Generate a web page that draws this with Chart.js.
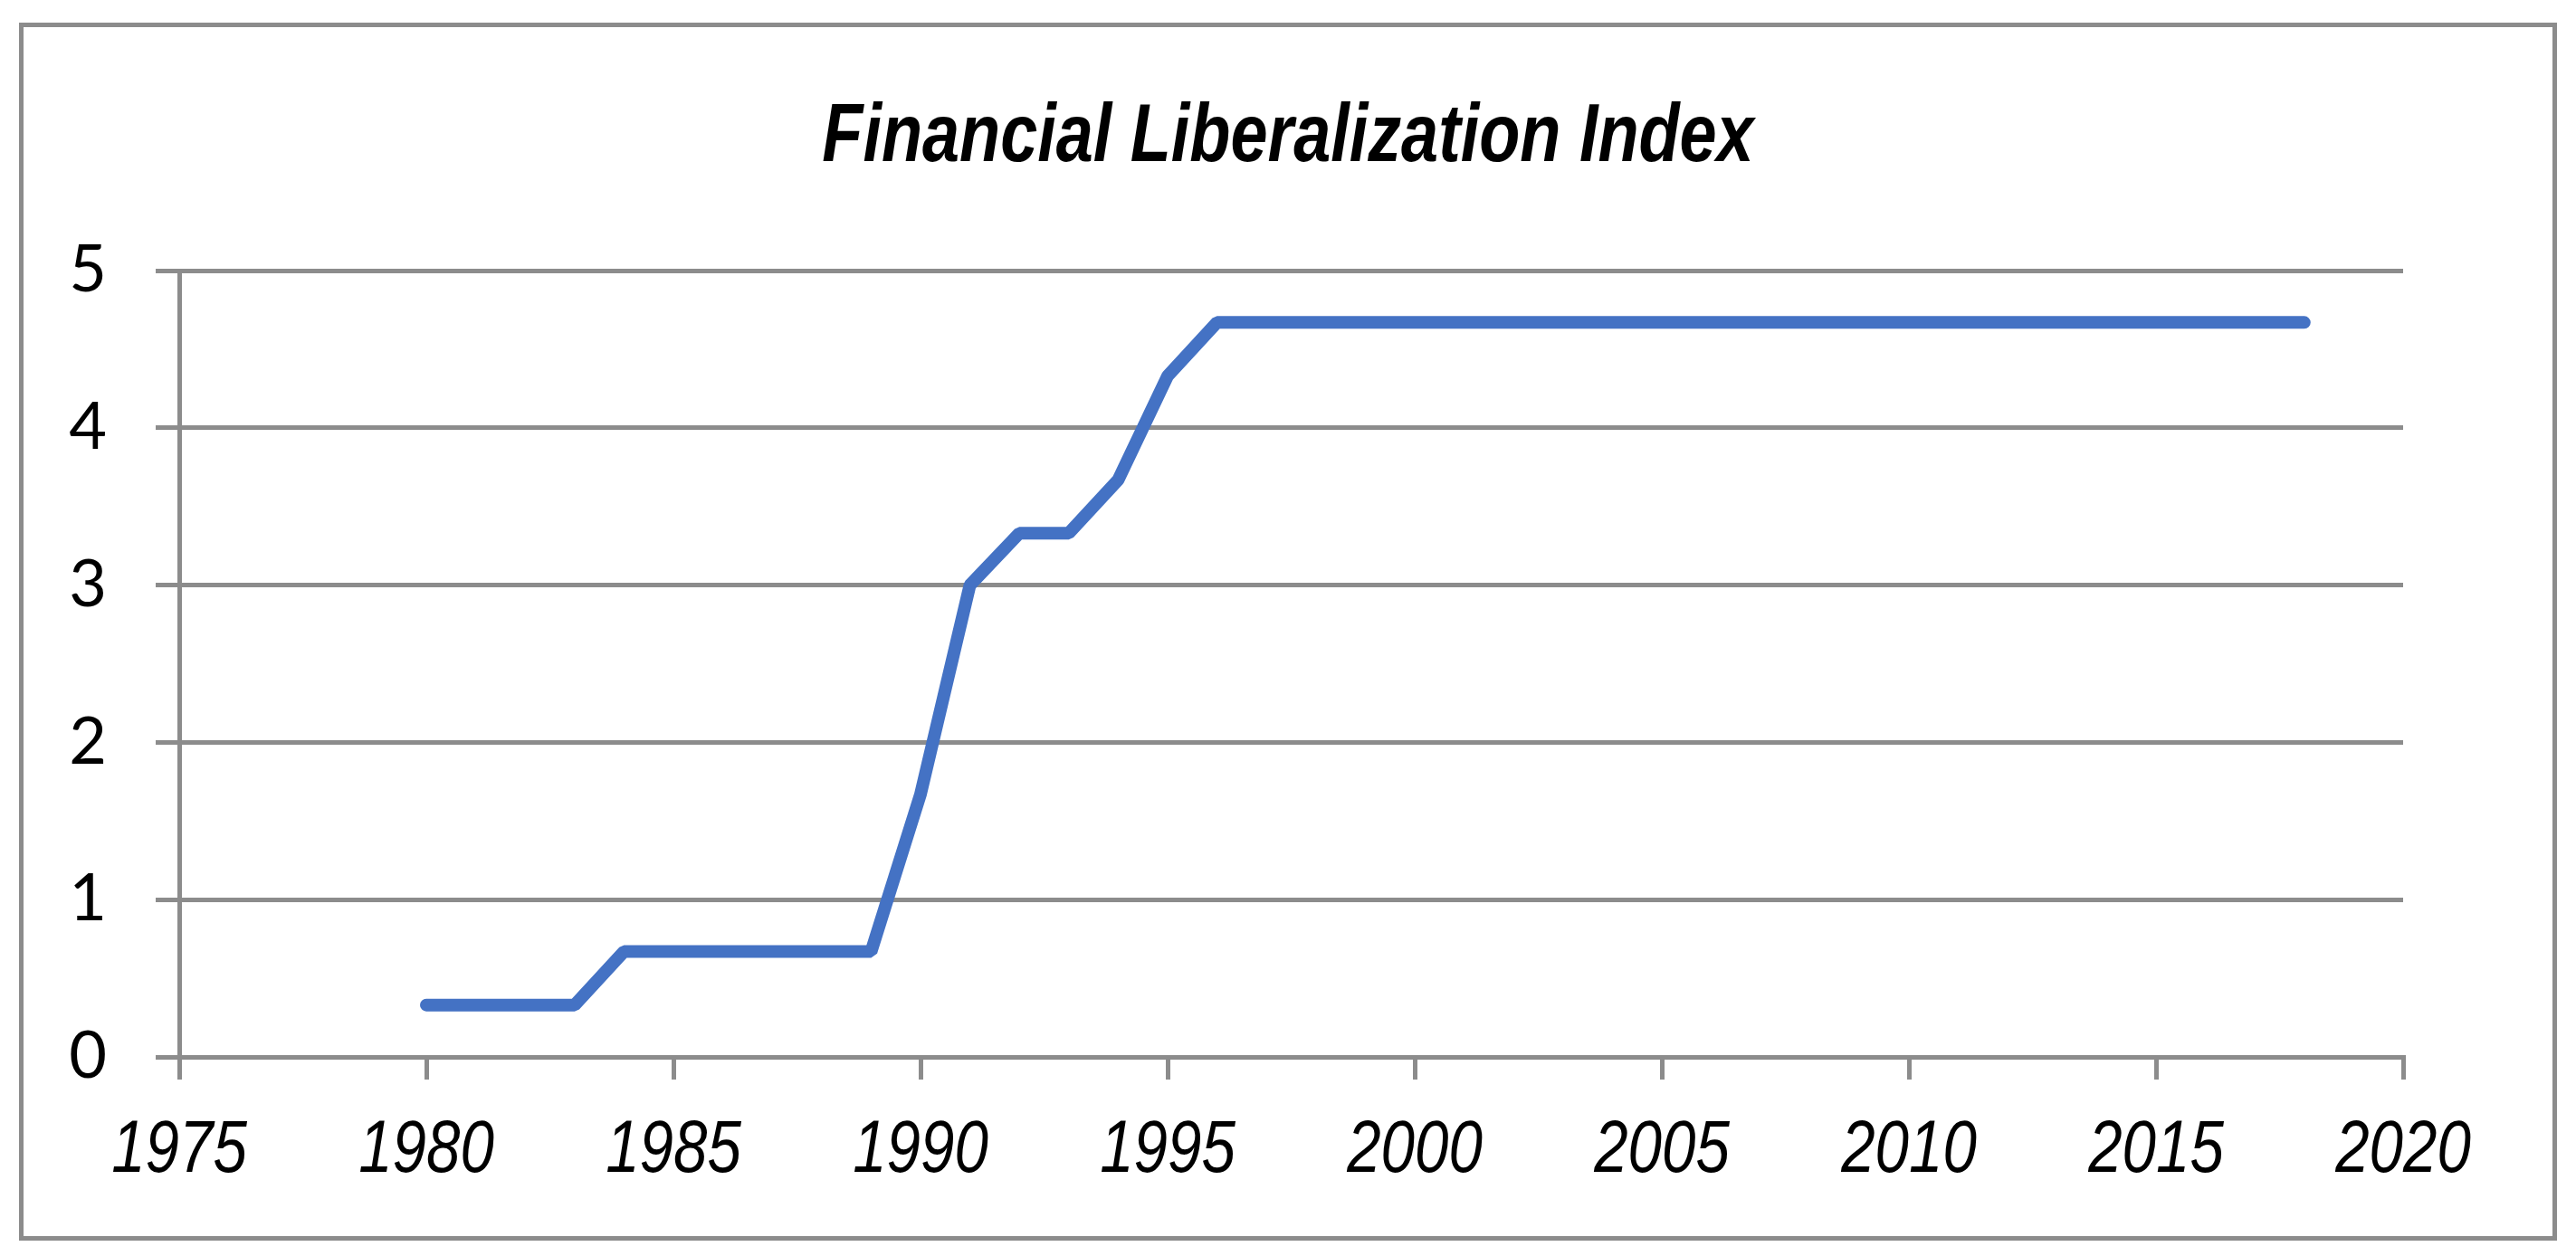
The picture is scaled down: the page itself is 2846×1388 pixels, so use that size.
<!DOCTYPE html>
<html lang="en">
<head>
  <meta charset="UTF-8" />
  <title>Financial Liberalization Index</title>
  <script src="https://cdn.jsdelivr.net/npm/chart.js"></script>
  <style>
    html, body { margin: 0; padding: 0; background: #fff; }
    #wrap { position: relative; width: 2846px; height: 1388px; }
    #frame { position: absolute; left: 21px; top: 25px; width: 2794px; height: 1336px; border: 5px solid #8c8c8c; pointer-events: none; }
    canvas { position: absolute; left: 0; top: 0; }
  </style>
</head>
<body>
  <div id="wrap">
    <canvas id="chart" width="2846" height="1388"></canvas>
    <div id="frame"></div>
  </div>

  <script>
    const years = [1980, 1981, 1982, 1983, 1984, 1985, 1986, 1987, 1988, 1989,
                   1990, 1991, 1992, 1993, 1994, 1995, 1996, 1997, 1998, 1999,
                   2000, 2001, 2002, 2003, 2004, 2005, 2006, 2007, 2008, 2009,
                   2010, 2011, 2012, 2013, 2014, 2015, 2016, 2017, 2018];
    const index = [0.33, 0.33, 0.33, 0.33, 0.67, 0.67, 0.67, 0.67, 0.67, 0.67,
                   1.67, 3.0, 3.33, 3.33, 3.67, 4.33, 4.67, 4.67, 4.67, 4.67,
                   4.67, 4.67, 4.67, 4.67, 4.67, 4.67, 4.67, 4.67, 4.67, 4.67,
                   4.67, 4.67, 4.67, 4.67, 4.67, 4.67, 4.67, 4.67, 4.67];
    const xMin = 1975, xMax = 2020, xStep = 5;
    const yMin = 0, yMax = 5, yStep = 1;
    const titleText = 'Financial Liberalization Index';

    const gridGrey = '#8c8c8c';
    const arial = '"Liberation Sans", Arial, sans-serif';
    const narrowFactor = 0.82; // Liberation Sans squeezed ~ Arial Narrow

    // narrow italic title + x labels (Arial Narrow is not installed)
    const narrowText = {
      id: 'narrowText',
      afterDraw(chart) {
        const c = chart.ctx;
        const xs = chart.scales.x;
        c.save();
        c.fillStyle = '#000';
        c.textAlign = 'center';
        c.textBaseline = 'alphabetic';

        c.font = 'italic bold 90px ' + arial;
        c.save();
        c.translate(chart.width / 2, 178);
        c.scale(narrowFactor, 1);
        c.fillText(titleText, 0, 0);
        c.restore();

        c.font = 'italic 82px ' + arial;
        xs.ticks.forEach(t => {
          c.save();
          c.translate(xs.getPixelForValue(t.value), xs.top + 127);
          c.scale(narrowFactor, 1);
          c.fillText(String(t.value), 0, 0);
          c.restore();
        });
        c.restore();
      }
    };

    const ctx = document.getElementById('chart').getContext('2d');
    const chart = new Chart(ctx, {
      type: 'line',
      data: {
        datasets: [{
          label: titleText,
          data: years.map((y, i) => ({ x: y, y: index[i] })),
          borderColor: '#4472c4',
          borderWidth: 14,
          borderCapStyle: 'round',
          borderJoinStyle: 'bevel',
          pointRadius: 0,
          tension: 0,
          fill: false
        }]
      },
      options: {
        responsive: false,
        animation: false,
        layout: { padding: { left: 60, right: 191, top: 299, bottom: 70 } },
        plugins: {
          legend: { display: false },
          tooltip: { enabled: false },
          title: { display: false }
        },
        scales: {
          x: {
            type: 'linear',
            min: xMin, max: xMax,
            afterFit: s => { s.height = 150; },
            ticks: { stepSize: xStep, display: false },
            grid: { drawOnChartArea: false, drawTicks: true, tickLength: 25, color: gridGrey, lineWidth: 5 },
            border: { display: true, color: gridGrey, width: 5 }
          },
          y: {
            min: yMin, max: yMax,
            afterFit: s => { s.width = 138; },
            ticks: {
              stepSize: yStep,
              color: '#000',
              padding: 54,
              font: { family: 'Lato, "Open Sans", sans-serif', size: 72 }
            },
            grid: { drawTicks: true, tickLength: 26, color: gridGrey, lineWidth: 5 },
            border: { display: true, color: gridGrey, width: 5 }
          }
        }
      },
      plugins: [narrowText]
    });
  </script>
</body>
</html>
